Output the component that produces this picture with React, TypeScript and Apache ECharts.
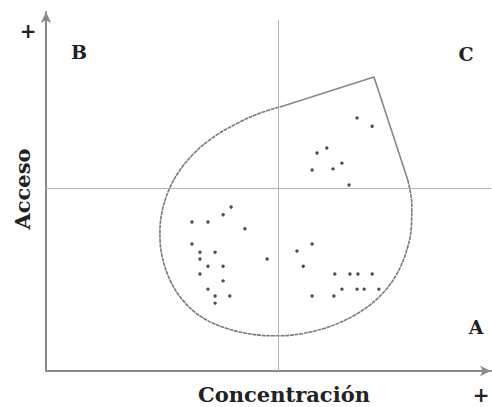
import React, { useEffect, useRef } from "react";
import * as echarts from "echarts";

// Scatter points [concentración, acceso] on a 0–100 scale
const pointsLow: number[][] = [
  [41.6, 45.7], [39.8, 43.5], [32.8, 41.5], [36.4, 41.5], [44.7, 39.6],
  [32.8, 35.4], [34.6, 33.1], [38.0, 33.1], [34.6, 31.2], [49.7, 31.2],
  [36.4, 29.2], [39.8, 29.2], [34.6, 27.0], [39.8, 25.1], [36.4, 22.8],
  [38.0, 20.9], [41.3, 20.9], [38.0, 18.9],
];
const pointsRight: number[][] = [
  [59.8, 35.4], [56.4, 33.4], [57.8, 29.2], [64.9, 27.0], [68.3, 27.0],
  [70.1, 27.0], [73.3, 27.0], [66.5, 22.8], [69.9, 22.8], [71.5, 22.8],
  [74.8, 22.8], [59.8, 20.9], [64.7, 20.9],
];
const pointsHigh: number[][] = [
  [69.9, 70.5], [73.3, 68.2], [63.1, 62.1], [60.9, 60.7], [66.5, 57.9],
  [59.8, 56.0], [64.5, 56.3], [68.1, 51.8],
];

// Teardrop outline: curved part and straight part
const outlineCurve: number[][] = [
  [81.3, 53.2], [82.2, 46.5], [82.1, 40.1], [80.9, 33.0], [78.6, 26.5],
  [75.0, 20.8], [70.0, 16.0], [63.8, 12.4], [57.5, 10.4], [52.1, 9.8],
  [46.5, 10.2], [40.5, 11.9], [35.0, 15.0], [30.8, 19.6], [27.8, 25.5],
  [26.0, 32.5], [25.6, 38.7], [26.1, 44.5], [27.6, 50.4], [30.0, 55.8],
  [33.4, 60.8], [37.8, 65.3], [43.0, 69.0], [48.0, 71.8], [53.3, 73.8],
];
const outlineStraight: number[][] = [[53.3, 73.8], [73.7, 81.9], [81.3, 53.2]];

const quadrantX = 52.1;
const quadrantY = 51.0;

const quadrantLabels = ["B", "C", "A"];
const axisTitles = ["Concentración", "Acceso"];

export default function App() {
  const ref = useRef<HTMLDivElement>(null);
  useEffect(() => {
    if (!ref.current) return;
    const chart = echarts.init(ref.current, null, { renderer: "svg" });
    const font = "DejaVu Serif";
    const axisLine = {
      show: true,
      symbol: ["none", "arrow"],
      symbolSize: [8, 11],
      lineStyle: { color: "#8a8a8a", width: 2 },
    };
    const textStyle = (t: string, size: number) => ({
      text: t,
      fill: "#222",
      font: `bold ${size}px "${font}"`,
      align: "center",
      verticalAlign: "middle",
    });
    chart.setOption({
      animation: false,
      backgroundColor: "#fff",
      grid: { left: 46, right: 1, top: 12, bottom: 36 },
      xAxis: {
        type: "value", min: 0, max: 100,
        axisLine, axisTick: { show: false }, axisLabel: { show: false },
        splitLine: { show: false },
      },
      yAxis: {
        type: "value", min: 0, max: 100,
        axisLine, axisTick: { show: false }, axisLabel: { show: false },
        splitLine: { show: false },
      },
      series: [
        {
          type: "line",
          data: outlineCurve,
          smooth: 0.35,
          showSymbol: false,
          lineStyle: { color: "#7a7a7a", width: 1.6, type: [4, 0.7] },
          silent: true,
          z: 3,
        },
        {
          type: "line",
          data: outlineStraight,
          showSymbol: false,
          lineStyle: { color: "#888", width: 1.6 },
          silent: true,
          z: 3,
        },
        {
          type: "scatter",
          data: [...pointsLow, ...pointsRight, ...pointsHigh],
          symbolSize: 3.4,
          itemStyle: { color: "#222" },
          z: 4,
          markLine: {
            silent: true,
            symbol: "none",
            label: { show: false },
            lineStyle: { color: "#b5b5b5", width: 1, type: "solid" },
            data: [
              [{ coord: [quadrantX, 0] }, { coord: [quadrantX, 97.8] }],
              [{ coord: [0, quadrantY] }, { coord: [100, quadrantY] }],
            ],
          },
        },
      ],
      graphic: [
        { type: "text", x: 28, y: 31, style: textStyle("+", 20) },
        { type: "text", x: 481, y: 395, style: textStyle("+", 20) },
        { type: "text", x: 79, y: 52, style: textStyle(quadrantLabels[0], 19) },
        { type: "text", x: 466, y: 54, style: textStyle(quadrantLabels[1], 19) },
        { type: "text", x: 476, y: 327, style: textStyle(quadrantLabels[2], 19) },
        { type: "text", x: 284, y: 394, style: textStyle(axisTitles[0], 21) },
        { type: "text", x: 22, y: 189, rotation: Math.PI / 2, style: textStyle(axisTitles[1], 21) },
      ],
    });
    return () => chart.dispose();
  }, []);
  return (
    <div
      ref={ref}
      style={{ position: "fixed", left: 0, top: 0, width: 492, height: 407 }}
    />
  );
}
